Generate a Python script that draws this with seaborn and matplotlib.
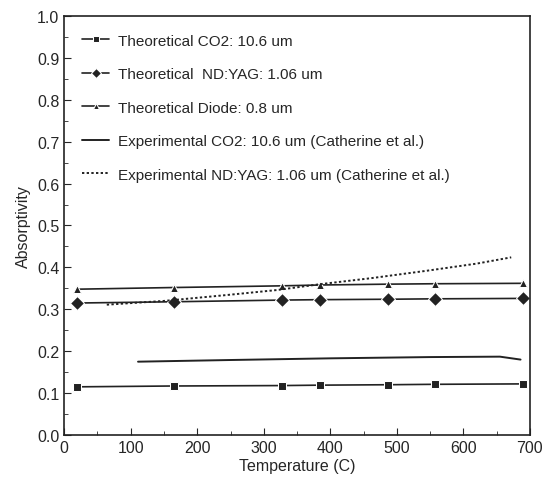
import pandas as pd
import matplotlib.pyplot as plt
import seaborn as sns
import numpy as np
from matplotlib.ticker import MultipleLocator

# Theoretical data
temp_theory = [20, 165, 327, 385, 487, 557, 690]
co2_theory = [0.115, 0.117, 0.118, 0.119, 0.120, 0.121, 0.122]
ndyag_theory = [0.315, 0.318, 0.322, 0.323, 0.324, 0.325, 0.326]
diode_theory = [0.348, 0.352, 0.356, 0.358, 0.360, 0.361, 0.362]

# Experimental curves (Catherine et al.)
temp_exp_co2 = [111, 250, 400, 550, 655, 686]
co2_exp = [0.175, 0.179, 0.183, 0.186, 0.187, 0.180]
temp_exp_nd = [64, 150, 244, 320, 385, 460, 545, 620, 672]
ndyag_exp = [0.311, 0.320, 0.334, 0.346, 0.360, 0.374, 0.392, 0.409, 0.424]

sns.set_style('ticks')
plt.rcParams['font.family'] = ['Liberation Sans', 'DejaVu Sans']

fig, ax = plt.subplots(figsize=(5.44, 4.85), dpi=100)
fig.subplots_adjust(left=0.118, right=0.974, top=0.965, bottom=0.101)

line_col = '#222222'
sns.lineplot(x=temp_theory, y=co2_theory, ax=ax, color=line_col, marker='s', markersize=6,
             lw=1.2, label='Theoretical CO2: 10.6 um')
sns.lineplot(x=temp_theory, y=ndyag_theory, ax=ax, color=line_col, marker='D', markersize=7,
             lw=1.2, label='Theoretical  ND:YAG: 1.06 um')
sns.lineplot(x=temp_theory, y=diode_theory, ax=ax, color=line_col, marker='^', markersize=6,
             lw=1.2, label='Theoretical Diode: 0.8 um')
sns.lineplot(x=temp_exp_co2, y=co2_exp, ax=ax, color=line_col, lw=1.4,
             label='Experimental CO2: 10.6 um (Catherine et al.)')
sns.lineplot(x=temp_exp_nd, y=ndyag_exp, ax=ax, color=line_col, lw=1.4, linestyle=(0, (1.2, 1.2)),
             label='Experimental ND:YAG: 1.06 um (Catherine et al.)')

ax.set_xlim(0, 700)
ax.set_ylim(0, 1.0)
ax.xaxis.set_major_locator(MultipleLocator(100))
ax.xaxis.set_minor_locator(MultipleLocator(50))
ax.yaxis.set_major_locator(MultipleLocator(0.1))
ax.yaxis.set_minor_locator(MultipleLocator(0.05))
ax.tick_params(which='both', direction='in', labelsize=11.5)
ax.tick_params(which='major', length=5)
ax.tick_params(which='minor', length=3)
for s in ax.spines.values():
    s.set_linewidth(1.2)
    s.set_color('#222222')

ax.set_xlabel('Temperature (C)', fontsize=11.5, labelpad=2)
ax.set_ylabel('Absorptivity', fontsize=11.5, labelpad=4)

ax.legend(loc='upper left', frameon=False, fontsize=11, handlelength=1.8, markerscale=0.75,
          handletextpad=0.6, labelspacing=1.28, borderaxespad=0.75)

plt.savefig('out.png', dpi=100)
